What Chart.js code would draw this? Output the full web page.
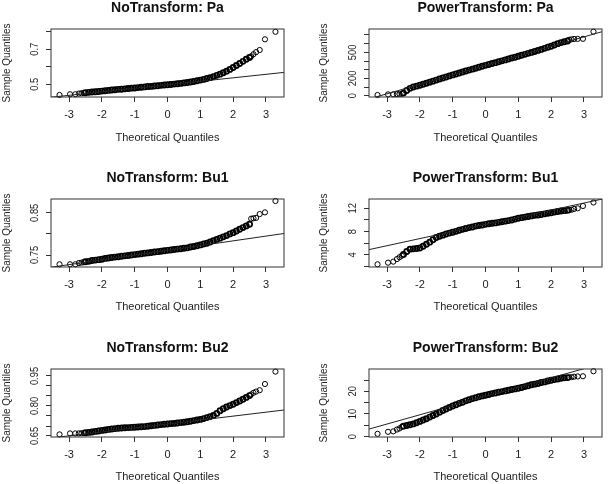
<!DOCTYPE html>
<html>
<head>
<meta charset="utf-8">
<script src="https://cdn.jsdelivr.net/npm/chart.js@4.4.1/dist/chart.umd.min.js"></script>
<style>
  body { margin: 0; background: #fff; }
  #wrap { position: relative; width: 609px; height: 484px; overflow: hidden; }
  #wrap canvas { position: absolute; }
</style>
</head>
<body>
<div id="wrap"></div>
<script>
// theoretical quantiles, shared by all six panels
const quantX = [-3.29, -2.97, -2.81, -2.70, -2.62, -2.55,
  -2.5, -2.4, -2.3, -2.2, -2.1, -2.0, -1.9, -1.8, -1.7, -1.6, -1.5, -1.4, -1.3, -1.2, -1.1,
  -1.0, -0.9, -0.8, -0.7, -0.6, -0.5, -0.4, -0.3, -0.2, -0.1, 0, 0.1, 0.2, 0.3, 0.4, 0.5,
  0.6, 0.7, 0.8, 0.9, 1.0, 1.1, 1.2, 1.3, 1.4, 1.5, 1.6, 1.7, 1.8, 1.9, 2.0, 2.1, 2.2, 2.3, 2.4, 2.5,
  2.55, 2.62, 2.70, 2.81, 2.97, 3.29];

// sample quantiles
const paY = [0.439, 0.443, 0.443, 0.447, 0.449, 0.451,
  0.452, 0.454, 0.456, 0.457, 0.459, 0.461, 0.463, 0.465, 0.467, 0.469, 0.471, 0.472, 0.474, 0.476, 0.478,
  0.479, 0.481, 0.483, 0.485, 0.487, 0.488, 0.490, 0.492, 0.494, 0.496, 0.497, 0.499, 0.501, 0.503, 0.505, 0.508,
  0.510, 0.513, 0.516, 0.520, 0.524, 0.528, 0.533, 0.538, 0.544, 0.551, 0.558, 0.566, 0.575, 0.585, 0.596, 0.607, 0.619, 0.631, 0.643, 0.653,
  0.660, 0.672, 0.684, 0.696, 0.757, 0.800];
const paPowY = [8, 15, 16, 18, 20, 22,
  30, 60, 85, 100, 110, 120, 132, 144, 156, 168, 180, 192, 204, 216, 228,
  240, 251, 262, 273, 284, 295, 306, 317, 328, 339, 350, 360, 371, 381, 392, 402,
  413, 423, 434, 444, 455, 466, 477, 488, 499, 510, 522, 534, 546, 558, 570, 585, 600, 612, 622, 630,
  645, 650, 654, 655, 656, 738];
const bu1Y = [0.728, 0.728, 0.728, 0.731, 0.732, 0.733,
  0.734, 0.735, 0.737, 0.738, 0.739, 0.740, 0.742, 0.743, 0.744, 0.745, 0.746, 0.747, 0.748, 0.749, 0.750,
  0.751, 0.752, 0.753, 0.754, 0.755, 0.756, 0.757, 0.758, 0.759, 0.760, 0.761, 0.762, 0.763, 0.764, 0.765, 0.766,
  0.767, 0.769, 0.770, 0.772, 0.774, 0.776, 0.778, 0.781, 0.784, 0.787, 0.790, 0.793, 0.796, 0.800, 0.803, 0.807, 0.811, 0.815, 0.819, 0.823,
  0.836, 0.837, 0.838, 0.847, 0.851, 0.878];
const bu1PowY = [2.4, 2.68, 2.86, 3.3, 3.61, 3.88,
  4.1, 4.6, 5.0, 5.05, 5.1, 5.2, 5.5, 5.85, 6.2, 6.6, 7.0, 7.2, 7.4, 7.6, 7.75,
  7.9, 8.05, 8.25, 8.4, 8.55, 8.7, 8.8, 8.95, 9.05, 9.15, 9.25, 9.35, 9.45, 9.5, 9.6, 9.7,
  9.8, 9.9, 10.0, 10.15, 10.3, 10.4, 10.5, 10.6, 10.7, 10.8, 10.85, 10.95, 11.05, 11.15, 11.25, 11.35, 11.45, 11.55, 11.6, 11.65,
  11.7, 11.75, 11.9, 12.0, 12.4, 13.0];
const bu2Y = [0.658, 0.663, 0.663, 0.663, 0.664, 0.665,
  0.666, 0.668, 0.670, 0.673, 0.675, 0.678, 0.680, 0.683, 0.685, 0.687, 0.689, 0.690, 0.691, 0.692, 0.693,
  0.694, 0.695, 0.696, 0.697, 0.699, 0.701, 0.703, 0.705, 0.707, 0.709, 0.710, 0.712, 0.713, 0.715, 0.717, 0.719,
  0.721, 0.724, 0.727, 0.730, 0.733, 0.737, 0.742, 0.747, 0.753, 0.763, 0.776, 0.786, 0.795, 0.802, 0.809, 0.817, 0.825, 0.834, 0.843, 0.852,
  0.858, 0.866, 0.872, 0.879, 0.910, 0.972];
const bu2PowY = [1.2, 2.1, 2.3, 3.1, 3.6, 4.3,
  4.6, 4.9, 5.2, 5.6, 6.1, 6.7, 7.3, 7.9, 8.6, 9.3, 10.0, 10.8, 11.5, 12.2, 12.9,
  13.5, 14.1, 14.7, 15.2, 15.8, 16.3, 16.8, 17.2, 17.6, 18.0, 18.3, 18.6, 19.0, 19.3, 19.6, 19.9,
  20.2, 20.5, 20.8, 21.1, 21.4, 21.7, 22.1, 22.5, 22.9, 23.2, 23.5, 23.9, 24.2, 24.6, 24.9, 25.2, 25.5, 25.8, 26.0, 26.1,
  26.2, 26.3, 26.5, 26.6, 26.7, 28.9];

// qqline end points (at the x axis limits)
const refX = [-3.55, 3.55];
const refY = [[0.426, 0.568], [-38, 738], [0.721, 0.801], [4.92, 13.58], [0.640, 0.780], [3.3, 32.3]];

const titles = ['NoTransform: Pa', 'PowerTransform: Pa', 'NoTransform: Bu1',
                'PowerTransform: Bu1', 'NoTransform: Bu2', 'PowerTransform: Bu2'];
const sampleY = [paY, paPowY, bu1Y, bu1PowY, bu2Y, bu2PowY];
const yMin = [0.4274, -15, 0.7216, 1.94, 0.645, -0.2];
const yMax = [0.816, 769, 0.8827, 13.6, 0.985, 29.9];
const yStep = [0.1, 100, 0.05, 2, 0.05, 5];
const yTickLabels = [['0.5', '0.7'], ['0', '200', '500'], ['0.75', '0.85'],
                     ['4', '8', '12'], ['0.65', '0.80', '0.95'], ['0', '10', '20']];

Chart.defaults.font.family = '"Liberation Sans", Arial, sans-serif';
Chart.defaults.color = '#222';

// panel placement
const rows = [
  {top: 0,   h: 160, tPad: {top: 0,   bottom: 12.2}, xH: 63, xtPad: 15.9},
  {top: 160, h: 160, tPad: {top: 9.9, bottom: 12.3}, xH: 53, xtPad: 6.4},
  {top: 320, h: 164, tPad: {top: 19.6, bottom: 12.6}, xH: 47, xtPad: 0.4}
];
const cols = [
  {left: 0,   w: 304, yW: 51, padR: 20, ytPad: 1},
  {left: 304, w: 305, yW: 65, padR: 7,  ytPad: 14}
];

// box round the plot region + rotated y tick labels, R style
const boxPlugin = {
  id: 'rbox',
  afterDraw(chart, args, opts) {
    const ctx = chart.ctx, a = chart.chartArea, ys = chart.scales.y;
    ctx.save();
    ctx.strokeStyle = '#333';
    ctx.lineWidth = 1;
    ctx.strokeRect(a.left, a.top, a.right - a.left, a.bottom - a.top);
    ctx.fillStyle = '#222';
    ctx.font = '11px "Liberation Sans", Arial, sans-serif';
    ctx.textAlign = 'center';
    ctx.textBaseline = 'middle';
    opts.labels.forEach(function(t) {
      const y = ys.getPixelForValue(parseFloat(t));
      ctx.save();
      ctx.translate(a.left - 16, y);
      ctx.rotate(-Math.PI / 2);
      ctx.scale(0.85, 1);
      ctx.fillText(t, 0, 0);
      ctx.restore();
    });
    ctx.restore();
  }
};

// the dense middle of the sample looks like a solid band, tails are thin rings
const nTail = 6;
const ringWidth = ctx => (ctx.dataIndex >= nTail && ctx.dataIndex < quantX.length - nTail) ? 1.7 : 1;

const wrap = document.getElementById('wrap');
for (let i = 0; i < 6; i++) {
  const r = rows[Math.floor(i / 2)], c = cols[i % 2];
  const cv = document.createElement('canvas');
  cv.width = c.w; cv.height = r.h;
  cv.style.left = c.left + 'px'; cv.style.top = r.top + 'px';
  wrap.appendChild(cv);

  new Chart(cv, {
    type: 'scatter',
    data: {
      datasets: [{
        type: 'line',
        data: refX.map((x, k) => ({x: x, y: refY[i][k]})),
        borderColor: '#222', borderWidth: 1, pointRadius: 0, fill: false, clip: 0
      }, {
        type: 'scatter',
        data: quantX.map((x, k) => ({x: x, y: sampleY[i][k]})),
        pointRadius: 2.6, borderWidth: ringWidth, borderColor: '#000',
        backgroundColor: 'rgba(0,0,0,0)', clip: false
      }]
    },
    options: {
      responsive: false, animation: false, devicePixelRatio: 1,
      events: [],
      layout: {padding: {left: 0, right: c.padR, top: 0, bottom: 0}},
      plugins: {
        legend: {display: false},
        tooltip: {enabled: false},
        title: {
          display: true, text: titles[i], fullSize: false,
          font: {size: 14, weight: 'bold'}, color: '#111', padding: r.tPad
        },
        rbox: {labels: yTickLabels[i]}
      },
      scales: {
        x: {
          type: 'linear', min: -3.55, max: 3.55,
          afterFit: s => { s.height = r.xH; },
          border: {display: false},
          grid: {drawOnChartArea: false, drawTicks: true, tickLength: 5, color: '#333'},
          ticks: {stepSize: 1, includeBounds: false, font: {size: 11}, padding: 6, maxRotation: 0},
          title: {display: true, text: 'Theoretical Quantiles', font: {size: 11},
                  padding: {top: 0, bottom: r.xtPad}}
        },
        y: {
          type: 'linear', min: yMin[i], max: yMax[i],
          afterFit: s => { s.width = c.yW; },
          border: {display: false},
          grid: {drawOnChartArea: false, drawTicks: true, tickLength: 5, color: '#333'},
          ticks: {stepSize: yStep[i], includeBounds: false, display: false},
          title: {display: true, text: 'Sample Quantiles', font: {size: 10},
                  padding: {top: c.ytPad, bottom: 0}}
        }
      }
    },
    plugins: [boxPlugin]
  });
}
</script>
</body>
</html>
